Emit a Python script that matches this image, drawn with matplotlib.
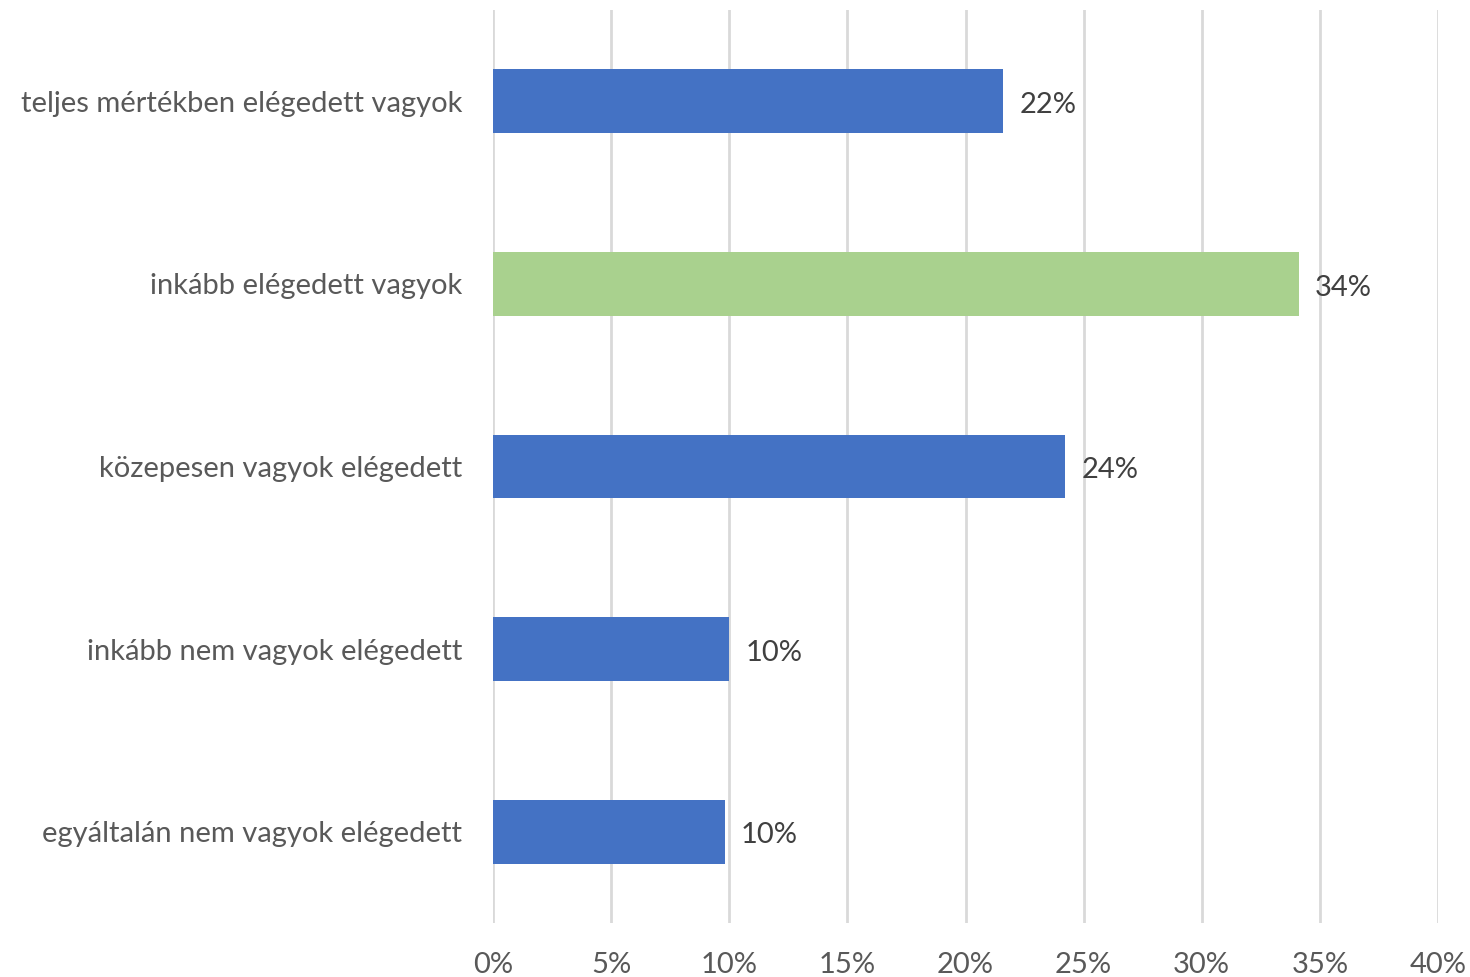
import numpy as np
import matplotlib.pyplot as plt
from matplotlib.ticker import FuncFormatter

categories = ['teljes mértékben elégedett vagyok',
              'inkább elégedett vagyok',
              'közepesen vagyok elégedett',
              'inkább nem vagyok elégedett',
              'egyáltalán nem vagyok elégedett']
values = [21.6, 34.1, 24.2, 10.0, 9.8]
colors = ['#4472C4', '#A9D18E', '#4472C4', '#4472C4', '#4472C4']
xticks = [0, 5, 10, 15, 20, 25, 30, 35, 40]

plt.rcParams['font.family'] = ['Lato', 'DejaVu Sans']

fig = plt.figure(figsize=(14.7, 9.77), dpi=100)
ax = fig.add_axes([493 / 1470, (977 - 923) / 977, 945 / 1470, 913 / 977])

y = np.arange(len(categories))
bars = ax.barh(y, values, height=0.35, color=colors, zorder=3)

for b, v in zip(bars, values):
    ax.text(b.get_width() + 0.7, b.get_y() + b.get_height() / 2 + 0.02, f'{round(v):.0f}%',
            va='center', ha='left', fontsize=21, color='#404040', zorder=4)

ax.set_ylim(len(categories) - 0.5, -0.5)
ax.set_xlim(0, 40)
ax.set_xticks(xticks)
ax.xaxis.set_major_formatter(FuncFormatter(lambda x, p: f'{x:.0f}%'))
ax.set_yticks(y)
ax.set_yticklabels(categories)
ax.tick_params(axis='both', length=0, labelsize=21, colors='#595959')
ax.tick_params(axis='y', pad=22)
ax.tick_params(axis='x', pad=21)
ax.grid(axis='x', color='#D9D9D9', linewidth=2, zorder=0)
for s in ax.spines.values():
    s.set_visible(False)

fig.savefig('out.png', dpi=100)
